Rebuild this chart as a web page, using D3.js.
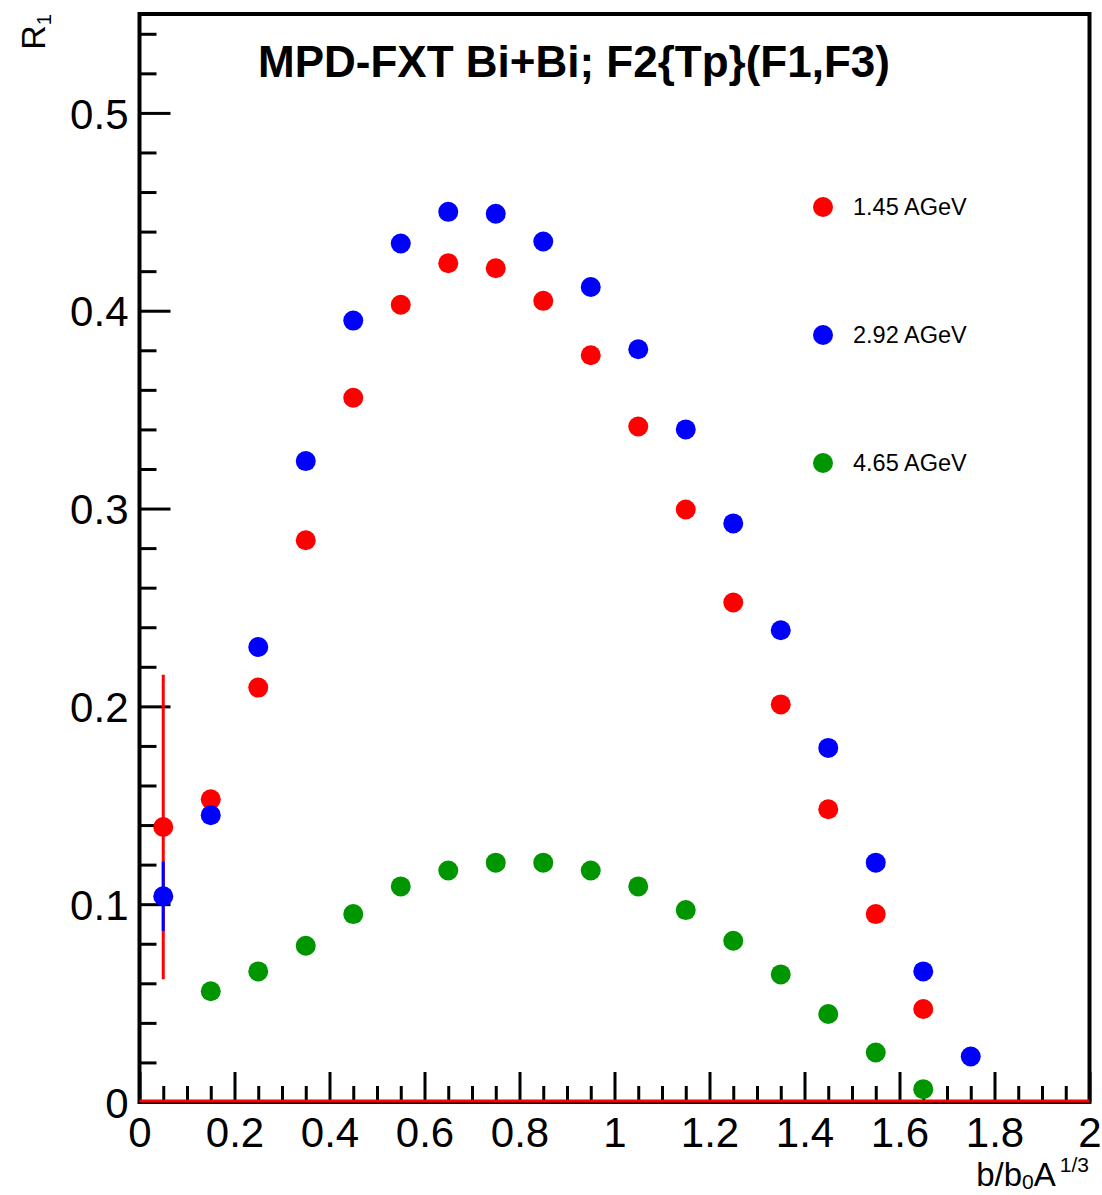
<!DOCTYPE html>
<html>
<head>
<meta charset="utf-8">
<script src="https://cdn.jsdelivr.net/npm/d3@7"></script>
<style>
  body { margin: 0; background: #fff; }
  svg text { font-family: "Liberation Sans", Arial, sans-serif; }
</style>
</head>
<body>
<svg id="chart" width="1102" height="1195"></svg>
<script>
// data
const xRed = [0.05, 0.15, 0.25, 0.35, 0.45, 0.55, 0.65, 0.75, 0.85, 0.95, 1.05, 1.15, 1.25, 1.35, 1.45, 1.55, 1.65];
const yRed = [0.139, 0.153, 0.2095, 0.284, 0.356, 0.403, 0.424, 0.4215, 0.405, 0.3775, 0.3415, 0.2995, 0.2525, 0.201, 0.148, 0.095, 0.047];
const errRed = [0.077, 0, 0, 0, 0, 0, 0, 0, 0, 0, 0, 0, 0, 0, 0, 0, 0];

const xBlue = [0.05, 0.15, 0.25, 0.35, 0.45, 0.55, 0.65, 0.75, 0.85, 0.95, 1.05, 1.15, 1.25, 1.35, 1.45, 1.55, 1.65, 1.75];
const yBlue = [0.104, 0.145, 0.23, 0.324, 0.395, 0.434, 0.45, 0.449, 0.435, 0.412, 0.3805, 0.34, 0.2925, 0.2385, 0.179, 0.121, 0.066, 0.023];
const errBlue = [0.0175, 0, 0, 0, 0, 0, 0, 0, 0, 0, 0, 0, 0, 0, 0, 0, 0, 0];

const xGreen = [0.15, 0.25, 0.35, 0.45, 0.55, 0.65, 0.75, 0.85, 0.95, 1.05, 1.15, 1.25, 1.35, 1.45, 1.55, 1.65];
const yGreen = [0.056, 0.066, 0.079, 0.095, 0.109, 0.117, 0.121, 0.121, 0.117, 0.109, 0.097, 0.0815, 0.0645, 0.0445, 0.025, 0.0065];
const errGreen = [0, 0, 0, 0, 0, 0, 0, 0, 0, 0, 0, 0, 0, 0, 0, 0];

const legendLabels = ["1.45 AGeV", "2.92 AGeV", "4.65 AGeV"];
const seriesColors = ["#ff0000", "#0000ff", "#009600"];

const xMajor = [0, 0.2, 0.4, 0.6, 0.8, 1, 1.2, 1.4, 1.6, 1.8, 2];
const yMajor = [0, 0.1, 0.2, 0.3, 0.4, 0.5];

const svg = d3.select("#chart");
const mLeft = 139.5, mRight = 1089.5, mTop = 14, mBottom = 1102;

const x = d3.scaleLinear().domain([0, 2]).range([mLeft, mRight]);
const y = d3.scaleLinear().domain([0, 0.55]).range([mBottom, mTop]);

const fmt = d3.format("~g");

// minor ticks
const xMinor = d3.range(0, 41).map(i => i * 0.05).filter(v => Math.abs(v * 5 - Math.round(v * 5)) > 1e-6);
const yMinor = d3.range(0, 28).map(i => i * 0.02).filter(v => Math.abs(v * 10 - Math.round(v * 10)) > 1e-6);

svg.append("g")
  .attr("transform", `translate(0,${mBottom})`)
  .call(d3.axisBottom(x).tickValues(xMinor).tickSize(-16).tickFormat(""))
  .call(g => g.select(".domain").remove())
  .selectAll("line").attr("stroke", "#000").attr("stroke-width", 3);

svg.append("g")
  .attr("transform", `translate(${mLeft},0)`)
  .call(d3.axisLeft(y).tickValues(yMinor).tickSize(-17).tickFormat(""))
  .call(g => g.select(".domain").remove())
  .selectAll("line").attr("stroke", "#000").attr("stroke-width", 3);

// major x axis
const gx = svg.append("g")
  .attr("transform", `translate(0,${mBottom})`)
  .call(d3.axisBottom(x).tickValues(xMajor).tickSizeInner(-30).tickSizeOuter(0).tickPadding(14).tickFormat(fmt));
gx.select(".domain").remove();
gx.selectAll("line").attr("stroke", "#000").attr("stroke-width", 3);
gx.selectAll("text").attr("font-size", 42).attr("fill", "#000")
  .attr("y", 0).attr("dy", 45);

// major y axis
const gy = svg.append("g")
  .attr("transform", `translate(${mLeft},0)`)
  .call(d3.axisLeft(y).tickValues(yMajor).tickSizeInner(-31).tickSizeOuter(0).tickFormat(fmt));
gy.select(".domain").remove();
gy.selectAll("line").attr("stroke", "#000").attr("stroke-width", 3);
gy.selectAll("text").attr("font-size", 42).attr("fill", "#000")
  .attr("x", -11).attr("dy", "0.36em");

// frame
svg.append("rect")
  .attr("x", mLeft).attr("y", mTop)
  .attr("width", mRight - mLeft).attr("height", mBottom - mTop)
  .attr("fill", "none").attr("stroke", "#000").attr("stroke-width", 4);

// red line at zero
svg.append("line")
  .attr("x1", x(0)).attr("x2", x(2))
  .attr("y1", y(0) - 1).attr("y2", y(0) - 1)
  .attr("stroke", "#ff0000").attr("stroke-width", 3);

const series = [
  { xs: xRed, ys: yRed, errs: errRed },
  { xs: xBlue, ys: yBlue, errs: errBlue },
  { xs: xGreen, ys: yGreen, errs: errGreen }
];

series.forEach((s, k) => {
  const pts = s.xs.map((xv, i) => ({ x: xv, y: s.ys[i], e: s.errs[i] }));
  const g = svg.append("g");
  g.selectAll("line")
    .data(pts.filter(d => d.e > 0))
    .join("line")
    .attr("x1", d => x(d.x)).attr("x2", d => x(d.x))
    .attr("y1", d => y(d.y - d.e)).attr("y2", d => y(d.y + d.e))
    .attr("stroke", seriesColors[k]).attr("stroke-width", 3);
  g.selectAll("circle")
    .data(pts)
    .join("circle")
    .attr("cx", d => x(d.x)).attr("cy", d => y(d.y))
    .attr("r", 10)
    .attr("fill", seriesColors[k]);
});

// legend
const legY = [207, 335, 463];
const leg = svg.append("g");
legendLabels.forEach((lab, i) => {
  leg.append("circle").attr("cx", 823).attr("cy", legY[i]).attr("r", 10).attr("fill", seriesColors[i]);
  leg.append("text").attr("x", 853).attr("y", legY[i] + 8)
    .attr("font-size", 23.5).attr("fill", "#000").text(lab);
});

// title
svg.append("text")
  .attr("x", 574).attr("y", 77)
  .attr("text-anchor", "middle")
  .attr("font-size", 44).attr("font-weight", "bold")
  .text("MPD-FXT Bi+Bi; F2{Tp}(F1,F3)");

// axis titles
const xt = svg.append("text")
  .attr("x", 1089).attr("y", 1186)
  .attr("text-anchor", "end")
  .attr("font-size", 33);
xt.append("tspan").text("b/b");
xt.append("tspan").attr("font-size", 21).attr("dy", 3).text("0");
xt.append("tspan").attr("dy", -3).text("A");
xt.append("tspan").attr("font-size", 21).attr("dy", -14).attr("dx", 4).text("1/3");

const yt = svg.append("text")
  .attr("transform", "translate(45,14) rotate(-90)")
  .attr("text-anchor", "end")
  .attr("font-size", 34);
yt.append("tspan").text("R");
yt.append("tspan").attr("font-size", 20).attr("dy", 6).text("1");
</script>
</body>
</html>
